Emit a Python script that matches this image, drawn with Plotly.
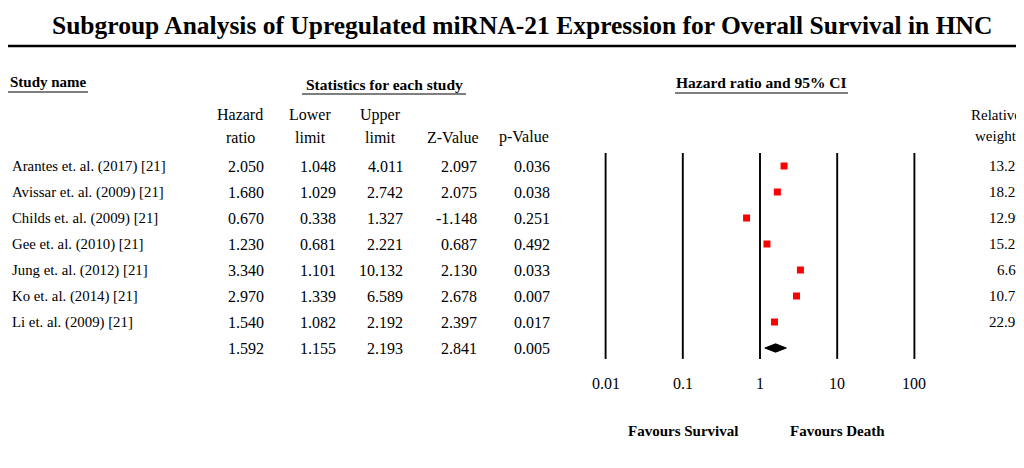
import math
import plotly.graph_objects as go

# ---------------- data ----------------
studies = ["Arantes et. al. (2017) [21]", "Avissar et. al. (2009) [21]", "Childs et. al. (2009) [21]",
           "Gee et. al. (2010) [21]", "Jung et. al. (2012) [21]", "Ko et. al. (2014) [21]",
           "Li et. al. (2009) [21]"]
hazard_ratio = [2.050, 1.680, 0.670, 1.230, 3.340, 2.970, 1.540]
lower_limit = [1.048, 1.029, 0.338, 0.681, 1.101, 1.339, 1.082]
upper_limit = [4.011, 2.742, 1.327, 2.221, 10.132, 6.589, 2.192]
z_value = [2.097, 2.075, -1.148, 0.687, 2.130, 2.678, 2.397]
p_value = [0.036, 0.038, 0.251, 0.492, 0.033, 0.007, 0.017]
relative_weight = [13.27, 18.22, 12.99, 15.27, 6.61, 10.72, 22.91]

summary_hr = 1.592
summary_lower = 1.155
summary_upper = 2.193
summary_z = 2.841
summary_p = 0.005

tick_values = [0.01, 0.1, 1, 10, 100]
tick_labels = ["0.01", "0.1", "1", "10", "100"]

title = "Subgroup Analysis of Upregulated miRNA-21 Expression for Overall Survival in HNC"

# ---------------- layout helpers (screen pixel positions; page has 8px body margin) ----------------
OFF = 8
W, H = 1024 - OFF, 468 - 2 * OFF
FONT = "Liberation Serif, Times New Roman, serif"
FS_NAME = 14.8
FS_NUM = 16


def px(x):
    return (x - OFF) / W


def py(y):
    return 1 - (y - OFF) / H


rows = list(range(len(studies)))
summary_row = len(studies)

fig = go.Figure()

# study squares
fig.add_trace(go.Scatter(
    x=hazard_ratio, y=rows, mode="markers",
    marker=dict(symbol="square", size=7, color="#ff0000", line=dict(width=0)),
    hoverinfo="skip", showlegend=False))

# summary diamond
dh = 0.16
fig.add_trace(go.Scatter(
    x=[summary_lower, summary_hr, summary_upper, summary_hr, summary_lower],
    y=[summary_row, summary_row - dh, summary_row, summary_row + dh, summary_row],
    mode="lines", fill="toself", fillcolor="black", line=dict(color="black", width=1),
    hoverinfo="skip", showlegend=False))

shapes = []
# vertical reference lines at decades
for tv in tick_values:
    shapes.append(dict(type="line", xref="x", yref="y", x0=tv, x1=tv, y0=-0.5, y1=7.42,
                       line=dict(color="black", width=1.9)))
# title rule
shapes.append(dict(type="line", xref="paper", yref="paper", x0=0, x1=1,
                   y0=py(46), y1=py(46), line=dict(color="black", width=2.7)))
# header underlines
for (a, b, yy) in [(8, 88, 92), (302, 466, 94), (675, 848, 93)]:
    shapes.append(dict(type="line", xref="paper", yref="paper", x0=px(a), x1=px(b),
                       y0=py(yy), y1=py(yy), line=dict(color="black", width=1.2)))

ann = []


def text(x, y, s, xanchor="center", size=FS_NUM, bold=False, xref="paper", yref="paper"):
    ann.append(dict(x=x, y=y, xref=xref, yref=yref, text=("<b>%s</b>" % s) if bold else s,
                    showarrow=False, xanchor=xanchor, yanchor="middle",
                    font=dict(family=FONT, size=size, color="black")))


# title
text(px(521.5), py(25), title, size=25.5, bold=True)

# headers
text(px(8), py(82), "Study name", xanchor="left", size=15, bold=True)
text(px(384), py(84), "Statistics for each study", size=15.5, bold=True)
text(px(761.5), py(83), "Hazard ratio and 95% CI", size=15.5, bold=True)

col_hdr = [("Hazard", "ratio", 240), ("Lower", "limit", 310), ("Upper", "limit", 380),
           ("", "Z-Value", 453), ("", "p-Value", 524)]
for l1, l2, cx in col_hdr:
    if l1:
        text(px(cx), py(115), l1)
    text(px(cx), py(137), l2)
text(px(996), py(115), "Relative", size=15)
text(px(996), py(136), "weight", size=15)

# table rows
col_right = [266, 337.5, 405, 479, 552]
for i, name in enumerate(studies):
    text(px(10), i, name, xanchor="left", size=FS_NAME, yref="y")
    vals = [hazard_ratio[i], lower_limit[i], upper_limit[i], z_value[i], p_value[i]]
    for v, xr in zip(vals, col_right):
        text(px(xr), i, "%.3f" % v, xanchor="right", yref="y")
    text(px(1025), i, "%.2f" % relative_weight[i], xanchor="right", size=15, yref="y")

svals = [summary_hr, summary_lower, summary_upper, summary_z, summary_p]
for v, xr in zip(svals, col_right):
    text(px(xr), summary_row, "%.3f" % v, xanchor="right", yref="y")

# axis tick labels (annotations on a log axis take log10 positions)
for tv, tl in zip(tick_values, tick_labels):
    text(math.log10(tv), py(383), tl, xref="x")

# favours labels
text(math.log10(0.1), py(431), "Favours Survival", size=15, bold=True, xref="x")
text(math.log10(10), py(431), "Favours Death", size=15, bold=True, xref="x")

# axes mapping (screen pixels -> data)
x0_px, x1_px = 560, 960
one_px, dec = 760, 77.2
r0 = (x0_px - one_px) / dec
r1 = (x1_px - one_px) / dec
row0_px, row_step = 166, 26
y_top = (OFF - row0_px) / row_step
y_bot = (OFF + H - row0_px) / row_step

fig.update_layout(
    width=W, height=H, margin=dict(l=0, r=0, t=0, b=0),
    paper_bgcolor="white", plot_bgcolor="white",
    xaxis=dict(type="log", range=[r0, r1], domain=[px(x0_px), px(x1_px)], visible=False,
               fixedrange=True),
    yaxis=dict(range=[y_bot, y_top], domain=[0, 1], visible=False, fixedrange=True),
    shapes=shapes, annotations=ann, showlegend=False,
)

fig.write_html("out.html")
